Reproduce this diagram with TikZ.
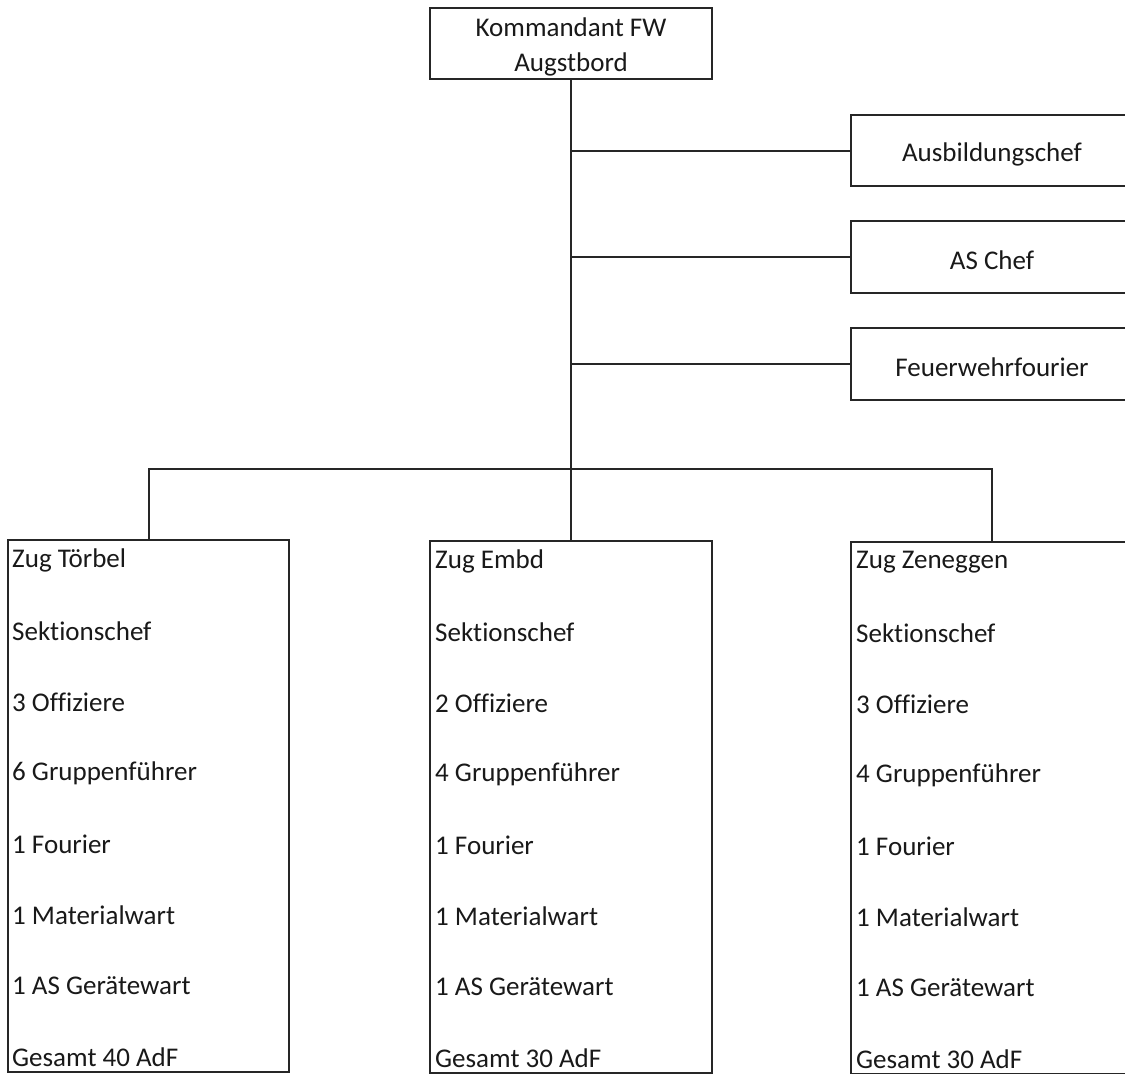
\documentclass[tikz,border=0pt]{standalone}
\usepackage{fontspec}
\setmainfont{Carlito}[RawFeature=-liga]
\newcommand\zugitems[3]{%
  \foreach \t [count=\i] in {#3}
    \node[item] (#1-\i) at (#2) [yshift={-(\i-1)*71pt}] {\t};
}
\begin{document}
\begin{tikzpicture}[x=1pt,y=-1pt,
  box/.style={draw=black!85, line width=2pt, rectangle, inner sep=0pt,
    minimum width=282pt},
  boxtext/.style={inner sep=0pt, font=\fontsize{27}{35}\selectfont, text=black!90, align=center},
  item/.style={anchor=west, inner sep=0pt, font=\fontsize{27}{30}\selectfont, text=black!90},
  conn/.style={draw=black!85, line width=2pt}]
\useasboundingbox (0,0) rectangle (1125,1074);
\fill[white] (0,0) rectangle (1125,1074);
\clip (0,0) rectangle (1125,1074);
% top
\node[box, minimum height=71pt] (kdt) at (571,43.5) {};
\node[boxtext] (kdt-t) at (571,47) {Kommandant FW\\Augstbord};
% staff
\node[box, minimum height=71pt] (ausb) at (992,150.5) {};
\node[boxtext] (ausb-t) at (992,154) {Ausbildungschef};
\node[box, minimum height=72pt] (as) at (992,257) {};
\node[boxtext] (as-t) at (992,260) {AS Chef};
\node[box, minimum height=72pt] (fw) at (992,364) {};
\node[boxtext] (fw-t) at (992,367) {Feuerwehrfourier};
% Züge
\node[box, minimum width=281pt, minimum height=532pt] (torbel) at (148.5,806) {};
\node[box, minimum width=282pt, minimum height=532pt] (embd) at (571,807) {};
\node[box, minimum width=282pt, minimum height=532pt] (zen) at (992,808) {};
\coordinate (bus) at (571,469);
% connectors
\draw[conn] (kdt.south) -- (embd.north);
\draw[conn] (kdt.south |- ausb.west) -- (ausb.west);
\draw[conn] (kdt.south |- as.west) -- (as.west);
\draw[conn] (kdt.south |- fw.west) -- (fw.west);
\draw[conn] (torbel.north) |- (bus) -| (zen.north);
% texts
\coordinate (p1) at (12,560);
\coordinate (p2) at (435,561);
\coordinate (p3) at (856,562);
\zugitems{tb}{p1}{Zug Törbel,Sektionschef,3 Offiziere,6 Gruppenführer,1 Fourier,1 Materialwart,1 AS Gerätewart,Gesamt 40 AdF}
\zugitems{em}{p2}{Zug Embd,Sektionschef,2 Offiziere,4 Gruppenführer,1 Fourier,1 Materialwart,1 AS Gerätewart,Gesamt 30 AdF}
\zugitems{ze}{p3}{Zug Zeneggen,Sektionschef,3 Offiziere,4 Gruppenführer,1 Fourier,1 Materialwart,1 AS Gerätewart,Gesamt 30 AdF}
\end{tikzpicture}
\end{document}
